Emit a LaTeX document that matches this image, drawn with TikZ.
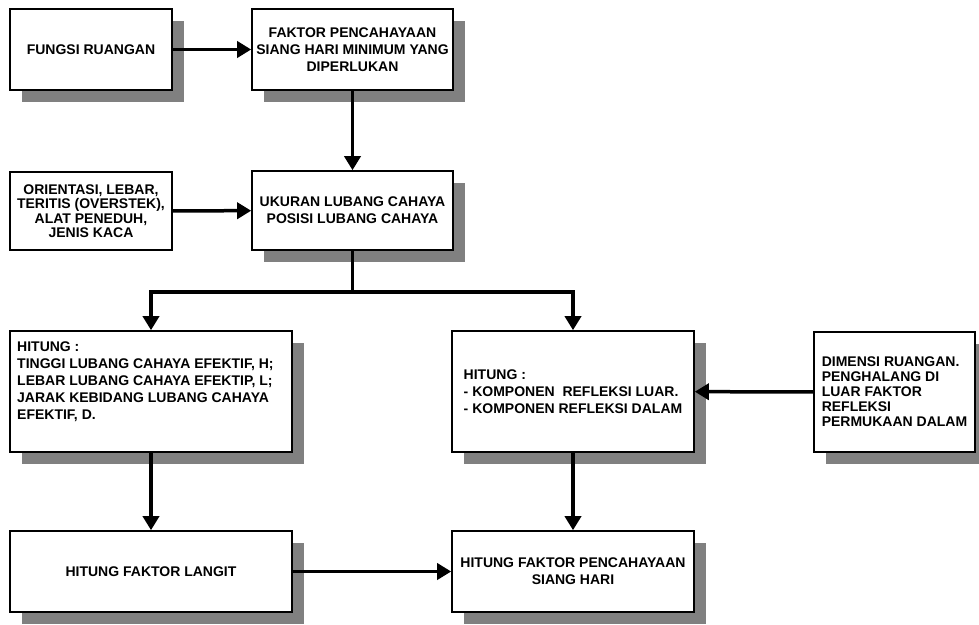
\documentclass[tikz,border=0pt]{standalone}
\usepackage{fontspec}
\setmainfont{Liberation Sans}
\usetikzlibrary{arrows.meta,shadows}

\tikzset{
	kotak/.style={draw, line width=1.6pt, fill=white, inner sep=0pt, font=\bfseries\fontsize{14}{17}\selectfont},
	bayang/.style={drop shadow={shadow xshift=12pt, shadow yshift=-12pt, opacity=1, fill=black!50}},
	garis/.style={line width=3.5pt},
	panah/.style={line width=3.5pt, -{Triangle[length=14pt, width=16pt]}}
}

\begin{document}
\begin{tikzpicture}[x=1pt, y=-1pt]
			%%%%% START %%%%%
			\useasboundingbox (0, 0) rectangle (979, 624);
			
			\node[kotak, bayang, minimum width=162pt, minimum height=81pt] (fungsi) at (91, 49.5) {FUNGSI RUANGAN};
			\node[kotak, bayang, minimum width=201pt, minimum height=81pt, align=center] (faktor) at (352.5, 49.5) {FAKTOR PENCAHAYAAN\\SIANG HARI MINIMUM YANG\\DIPERLUKAN};
			
			\node[kotak, minimum width=162pt, minimum height=78pt, align=center, font=\bfseries\fontsize{14}{14.5}\selectfont] (orientasi) at (91, 211) {ORIENTASI, LEBAR,\\TERITIS (OVERSTEK),\\ALAT PENEDUH,\\JENIS KACA};
			\node[kotak, bayang, minimum width=201pt, minimum height=79pt, align=center] (ukuran) at (352.5, 210.5) {UKURAN LUBANG CAHAYA\\POSISI LUBANG CAHAYA};
			
			\node[kotak, bayang, minimum width=282pt, minimum height=121pt] (hitunglubang) at (151, 391.5) {};
			\node[anchor=north west, inner sep=0pt, align=left, font=\bfseries\fontsize{14}{17}\selectfont] (teksLubang) at (17, 342) {HITUNG :\\TINGGI LUBANG CAHAYA EFEKTIF, H;\\LEBAR LUBANG CAHAYA EFEKTIP, L;\\JARAK KEBIDANG LUBANG CAHAYA\\EFEKTIF, D.};
			\node[kotak, bayang, minimum width=242pt, minimum height=121pt, align=left] (hitungrefleksi) at (573, 391.5) {HITUNG :\\- KOMPONEN\ \ REFLEKSI LUAR.\\- KOMPONEN REFLEKSI DALAM};
			\node[kotak, bayang, minimum width=161pt, minimum height=120pt, align=left, font=\bfseries\fontsize{14}{15}\selectfont] (dimensi) at (894.5, 392) {DIMENSI RUANGAN.\\PENGHALANG DI\\LUAR FAKTOR\\REFLEKSI\\PERMUKAAN DALAM};
			
			\node[kotak, bayang, minimum width=282pt, minimum height=81pt] (langit) at (151, 571.5) {HITUNG FAKTOR LANGIT};
			\node[kotak, bayang, minimum width=242pt, minimum height=81pt, align=center] (fpsh) at (573, 571.5) {HITUNG FAKTOR PENCAHAYAAN\\SIANG HARI};
			
			% panah
			\draw[panah] (fungsi) -- (faktor);
			\draw[panah] (faktor) -- (ukuran);
			\draw[panah] (orientasi) -- (ukuran);
			\draw[garis] (ukuran.south) -- ++(0, 41) coordinate (cabang);
			\draw[panah] ([xshift=1.75pt]cabang) -| (hitunglubang.north);
			\draw[panah] ([xshift=-1.75pt]cabang) -| (hitungrefleksi.north);
			\draw[panah] (dimensi) -- (hitungrefleksi);
			\draw[panah] (hitunglubang) -- (langit);
			\draw[panah] (hitungrefleksi) -- (fpsh);
			\draw[panah] (langit) -- (fpsh);
			
			%%%%% END %%%%%
		\end{tikzpicture}
\end{document}
